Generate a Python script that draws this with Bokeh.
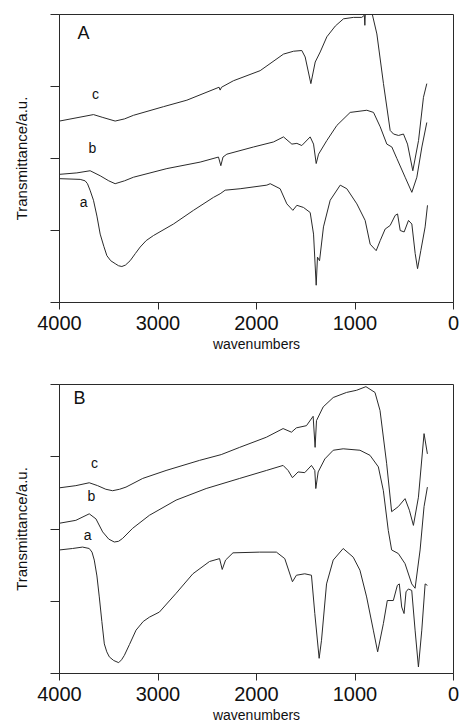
from bokeh.plotting import figure
from bokeh.models import Range1d, FixedTicker, Label
from bokeh.layouts import column
from bokeh.embed import file_html
from bokeh.resources import INLINE

# ---------------- Panel A data (wavenumber, transmittance a.u.) ----------------
wnA_c = [4000, 3655, 3560, 3435, 3340, 3249, 2944, 2707, 2380, 2369, 2355, 2234, 1963, 1726, 1624,
         1540, 1506, 1448, 1404, 1353, 1286, 1200, 1117, 1015, 931, 905, 900, 895, 860, 829, 778, 711,
         643, 609, 558, 508, 467, 413, 355, 305, 271]
TA_c = [2.52, 2.61, 2.57, 2.52, 2.55, 2.60, 2.72, 2.81, 2.99, 2.95, 2.99, 3.08, 3.22, 3.45, 3.49,
        3.50, 3.41, 3.04, 3.34, 3.48, 3.69, 3.84, 3.94, 3.96, 3.96, 3.99, 3.85, 4.02, 4.05, 4.03,
        3.73, 3.04, 2.39, 2.34, 2.32, 2.34, 2.20, 1.83, 2.25, 2.85, 3.04]

wnA_b = [4000, 3824, 3689, 3587, 3500, 3435, 3340, 3249, 2910, 2572, 2386, 2362, 2340, 2301, 2030,
         1827, 1726, 1641, 1590, 1540, 1455, 1421, 1394, 1370, 1286, 1184, 1049, 880, 812, 744, 677,
         626, 575, 491, 423, 372, 321, 271]
TA_b = [1.78, 1.80, 1.83, 1.76, 1.69, 1.65, 1.69, 1.74, 1.86, 1.95, 2.02, 1.90, 2.02, 2.06, 2.16,
        2.23, 2.30, 2.20, 2.21, 2.18, 2.30, 2.20, 1.93, 2.06, 2.25, 2.46, 2.64, 2.67, 2.64, 2.44,
        2.20, 2.16, 2.00, 1.74, 1.53, 1.74, 2.16, 2.50]

wnA_a = [4000, 3790, 3740, 3716, 3690, 3655, 3620, 3587, 3550, 3519, 3480, 3435, 3400, 3367, 3330,
         3283, 3230, 3181, 3120, 3046, 2843, 2640, 2437, 2369, 2318, 2166, 1895, 1861, 1760, 1692,
         1631, 1590, 1523, 1455, 1421, 1394, 1381, 1360, 1320, 1252, 1150, 1083, 981, 897, 846, 785,
         744, 694, 643, 592, 568, 541, 501, 457, 423, 389, 365, 332, 288, 264]
TA_a = [1.72, 1.71, 1.69, 1.65, 1.56, 1.42, 1.20, 0.95, 0.78, 0.65, 0.58, 0.54, 0.51, 0.50, 0.52,
        0.58, 0.68, 0.77, 0.86, 0.93, 1.09, 1.28, 1.46, 1.51, 1.56, 1.58, 1.63, 1.65, 1.58, 1.37,
        1.28, 1.35, 1.32, 1.25, 0.95, 0.24, 0.63, 0.58, 1.05, 1.42, 1.63, 1.58, 1.37, 1.14, 0.81,
        0.72, 0.86, 1.02, 1.07, 1.21, 1.23, 1.00, 0.98, 1.14, 1.09, 0.68, 0.47, 0.72, 1.05, 1.35]

# ---------------- Panel B data ----------------
wnB_c = [4000, 3834, 3698, 3613, 3530, 3461, 3390, 3325, 3155, 2918, 2578, 2358, 2171, 1900, 1730,
         1645, 1595, 1493, 1425, 1405, 1391, 1323, 1221, 1086, 984, 889, 797, 746, 679, 628, 560,
         492, 448, 407, 356, 299, 265]
TB_c = [2.57, 2.60, 2.64, 2.60, 2.55, 2.53, 2.55, 2.58, 2.70, 2.81, 2.95, 3.03, 3.13, 3.27, 3.39,
        3.34, 3.40, 3.43, 3.56, 3.13, 3.50, 3.69, 3.82, 3.89, 3.92, 3.97, 3.89, 3.64, 2.91, 2.24,
        2.31, 2.42, 2.26, 2.05, 2.44, 3.32, 3.04]

wnB_b = [4000, 3834, 3698, 3630, 3562, 3500, 3444, 3400, 3359, 3257, 3087, 2816, 2511, 2171, 1900,
         1730, 1679, 1635, 1578, 1510, 1442, 1408, 1398, 1374, 1306, 1221, 1120, 950, 848, 763, 712,
         662, 628, 560, 492, 424, 390, 339, 299, 265]
TB_b = [2.08, 2.12, 2.21, 2.14, 1.96, 1.86, 1.82, 1.83, 1.87, 2.01, 2.19, 2.40, 2.56, 2.70, 2.81,
        2.88, 2.81, 2.71, 2.79, 2.78, 2.88, 2.81, 2.56, 2.79, 2.97, 3.09, 3.11, 3.09, 3.02, 2.86,
        2.53, 1.98, 1.71, 1.66, 1.52, 1.24, 1.18, 1.71, 2.31, 2.58]

wnB_a = [4000, 3868, 3766, 3698, 3670, 3647, 3620, 3596, 3570, 3545, 3520, 3494, 3450, 3399, 3370,
         3342, 3290, 3223, 3150, 3087, 2986, 2816, 2646, 2477, 2375, 2348, 2314, 2239, 1968, 1798,
         1713, 1635, 1595, 1510, 1442, 1408, 1364, 1340, 1289, 1221, 1120, 1018, 950, 882, 814, 770,
         712, 672, 611, 570, 550, 526, 502, 482, 458, 424, 390, 356, 322, 288, 265]
TB_a = [1.71, 1.73, 1.75, 1.73, 1.68, 1.57, 1.35, 1.06, 0.72, 0.41, 0.30, 0.23, 0.18, 0.15, 0.19,
        0.25, 0.40, 0.60, 0.72, 0.78, 0.85, 1.11, 1.38, 1.55, 1.59, 1.44, 1.57, 1.67, 1.68, 1.68,
        1.59, 1.27, 1.36, 1.38, 1.36, 0.83, 0.21, 0.46, 1.24, 1.57, 1.73, 1.61, 1.43, 1.06, 0.60,
        0.30, 0.69, 1.01, 1.01, 1.22, 1.24, 0.92, 0.83, 1.13, 1.17, 1.15, 0.60, 0.09, 0.60, 1.24,
        1.22]

x_ticks = [4000, 3000, 2000, 1000, 0]
y_ticks = [0, 1, 2, 3, 4]
curve_names = ["a", "b", "c"]

FONT = "Liberation Sans"
INK = "#2a2a2a"


def make_panel(letter, curves, name_pos, letter_pos, height, top, bottom):
    p = figure(width=460, height=height, x_range=Range1d(4000, 0), y_range=Range1d(0, 4),
               output_backend="svg", toolbar_location=None,
               min_border_left=59, min_border_right=7, min_border_top=top, min_border_bottom=bottom)
    p.grid.visible = False
    p.outline_line_color = INK
    p.outline_line_width = 1
    p.background_fill_color = "white"
    p.border_fill_color = "white"

    for wn, t in curves:
        p.line(wn, t, line_color=INK, line_width=1)

    # x axis
    xa = p.xaxis[0]
    xa.ticker = FixedTicker(ticks=x_ticks)
    xa.axis_line_color = INK
    xa.major_tick_line_color = INK
    xa.major_tick_out = 7
    xa.major_tick_in = 0
    xa.minor_tick_line_color = None
    xa.major_label_text_font = FONT
    xa.major_label_text_font_size = "20px"
    xa.major_label_text_color = "#111"
    xa.major_label_standoff = 6
    xa.axis_label = "wavenumbers"
    xa.axis_label_text_font = FONT
    xa.axis_label_text_font_size = "14px"
    xa.axis_label_text_font_style = "normal"
    xa.axis_label_text_color = "#111"
    xa.axis_label_standoff = 3

    # y axis
    ya = p.yaxis[0]
    ya.ticker = FixedTicker(ticks=y_ticks)
    ya.major_label_overrides = {v: "" for v in y_ticks}
    ya.axis_line_color = INK
    ya.major_tick_line_color = INK
    ya.major_tick_out = 9
    ya.major_tick_in = 0
    ya.minor_tick_line_color = None
    ya.major_label_standoff = 0
    ya.axis_label = "Transmittance/a.u."
    ya.axis_label_text_font = FONT
    ya.axis_label_text_font_size = "15px"
    ya.axis_label_text_font_style = "normal"
    ya.axis_label_text_color = "#111"
    ya.axis_label_standoff = 21

    p.add_layout(Label(x=letter_pos[0], y=letter_pos[1], text=letter, text_font=FONT,
                       text_font_size="18px", text_color="#111",
                       text_align="center", text_baseline="middle"))
    for nm, (lx, ly) in zip(curve_names, name_pos):
        p.add_layout(Label(x=lx, y=ly, text=nm, text_font=FONT, text_font_size="14px",
                           text_color="#111", text_align="center", text_baseline="middle"))
    return p


pA = make_panel("A",
                [(wnA_a, TA_a), (wnA_b, TA_b), (wnA_c, TA_c)],
                [(3756, 1.39), (3665, 2.14), (3635, 2.90)],
                (3756, 3.75), height=364, top=14, bottom=62)
pB = make_panel("B",
                [(wnB_a, TB_a), (wnB_b, TB_b), (wnB_c, TB_c)],
                [(3715, 1.92), (3675, 2.45), (3644, 2.92)],
                (3797, 3.81), height=364, top=20, bottom=55)

layout = column(pA, pB, spacing=0)
open("out.html", "w").write(file_html(layout, INLINE))
